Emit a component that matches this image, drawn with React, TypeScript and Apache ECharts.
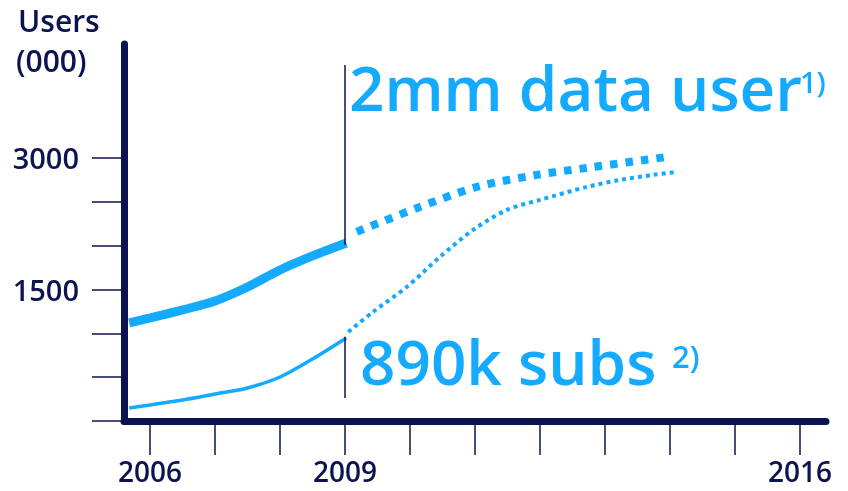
import React, { useEffect, useRef } from "react";
import * as echarts from "echarts";

const NAVY = "#0b1350";
const BLUE = "#14aaff";
const FONT = "'Open Sans', 'Noto Sans', sans-serif";

// Axis ticks & labels
const yearTicks = [2006, 2007, 2008, 2009, 2010, 2011, 2012, 2013, 2014, 2015, 2016];
const yearLabels = [2006, 2009, 2016];
const valueTicks = [0, 500, 1000, 1500, 2000, 2500, 3000];
const valueLabels = [1500, 3000];

// Data users (000) – actual (solid) and forecast (dashed)
const dataUserActualYears = [2005.68, 2006.0, 2006.5, 2007.0, 2007.5, 2008.0, 2008.5, 2009.02];
const dataUserActualValues = [1118, 1175, 1267, 1369, 1529, 1723, 1883, 2031];
const dataUserForecastYears = [2009.18, 2010.11, 2011.03, 2011.95, 2012.72, 2013.95];
const dataUserForecastValues = [2157, 2430, 2670, 2807, 2887, 3012];

// Subscribers (000) – actual (solid) and forecast (dotted)
const subsActualYears = [2005.68, 2006.0, 2006.5, 2007.0, 2007.5, 2008.0, 2008.5, 2009.02];
const subsActualValues = [148, 183, 240, 308, 377, 502, 707, 947];
const subsForecastYears = [2009.05, 2009.43, 2009.95, 2010.46, 2010.97, 2011.49, 2012.0, 2012.72, 2013.23, 2013.74, 2014.12];
const subsForecastValues = [1015, 1244, 1529, 1871, 2179, 2408, 2522, 2670, 2750, 2807, 2841];

// Annotation markers at 2009
const markerYear = 2009;
const upperMarkerRange = [2010, 4060];
const lowerMarkerRange = [262, 960];

const zip = (xs: number[], ys: number[]) => xs.map((x, i) => [x, ys[i]]);

export default function App() {
  const ref = useRef<HTMLDivElement>(null);
  useEffect(() => {
    if (!ref.current) return;
    const chart = echarts.init(ref.current, null, { renderer: "svg" });
    const labelStyle = { color: NAVY, fontFamily: FONT, fontSize: 29, fontWeight: 600 };
    chart.setOption({
      animation: false,
      grid: { left: 124, right: 22, top: 44, bottom: 70 },
      xAxis: {
        type: "value",
        min: 2005.6,
        max: 2016.4,
        splitLine: { show: false },
        axisLine: { show: true, onZero: true, lineStyle: { color: NAVY, width: 7 } },
        axisTick: { show: true, customValues: yearTicks, length: 34, inside: false, lineStyle: { color: NAVY, width: 1.5 } },
        axisLabel: { customValues: yearLabels, margin: 36, formatter: (v: number) => String(v), ...labelStyle, fontSize: 28 },
      },
      yAxis: {
        type: "value",
        min: 0,
        max: 4300,
        interval: 500,
        splitLine: { show: false },
        axisLine: { show: true, lineStyle: { color: NAVY, width: 7 } },
        axisTick: { show: true, customValues: valueTicks, length: 32, lineStyle: { color: NAVY, width: 1.5 } },
        axisLabel: { customValues: valueLabels, margin: 45, formatter: (v: number) => String(v), ...labelStyle },
      },
      series: [
        {
          type: "line",
          data: zip(dataUserActualYears, dataUserActualValues),
          smooth: 0.3,
          showSymbol: false,
          lineStyle: { color: BLUE, width: 9, cap: "butt" },
          markLine: {
            silent: true,
            symbol: ["none", "none"],
            label: { show: false },
            lineStyle: { color: NAVY, width: 1.5, type: "solid" },
            data: [
              [{ coord: [markerYear, upperMarkerRange[0]] }, { coord: [markerYear, upperMarkerRange[1]] }],
              [{ coord: [markerYear, lowerMarkerRange[0]] }, { coord: [markerYear, lowerMarkerRange[1]] }],
            ],
          },
        },
        {
          type: "line",
          data: zip(dataUserForecastYears, dataUserForecastValues),
          smooth: 0.3,
          showSymbol: false,
          lineStyle: { color: BLUE, width: 8, type: [7.5, 8], cap: "butt" },
        },
        {
          type: "line",
          data: zip(subsActualYears, subsActualValues),
          smooth: 0.3,
          showSymbol: false,
          lineStyle: { color: BLUE, width: 3.5 },
        },
        {
          type: "line",
          data: zip(subsForecastYears, subsForecastValues),
          smooth: 0.3,
          showSymbol: false,
          lineStyle: { color: BLUE, width: 4, type: [4, 4], cap: "butt" },
        },
      ],
      graphic: [
        { type: "text", x: 18, y: 20, style: { text: "Users", fill: NAVY, font: `600 30px ${FONT}`, verticalAlign: "middle" } },
        { type: "text", x: 16, y: 60, style: { text: "(000)", fill: NAVY, font: `600 30px ${FONT}`, verticalAlign: "middle" } },
        { type: "text", x: 349, y: 87, style: { text: "2mm data user", fill: BLUE, font: `600 62px ${FONT}`, verticalAlign: "middle" } },
        { type: "text", x: 800, y: 81, style: { text: "1)", fill: BLUE, font: `600 29px ${FONT}`, verticalAlign: "middle" } },
        { type: "text", x: 360, y: 361, style: { text: "890k subs", fill: BLUE, font: `600 62px ${FONT}`, verticalAlign: "middle" } },
        { type: "text", x: 672, y: 356, style: { text: "2)", fill: BLUE, font: `600 31px ${FONT}`, verticalAlign: "middle" } },
      ],
    });
    return () => chart.dispose();
  }, []);
  return <div ref={ref} style={{ position: "fixed", left: 0, top: 0, width: 848, height: 491 }} />;
}
